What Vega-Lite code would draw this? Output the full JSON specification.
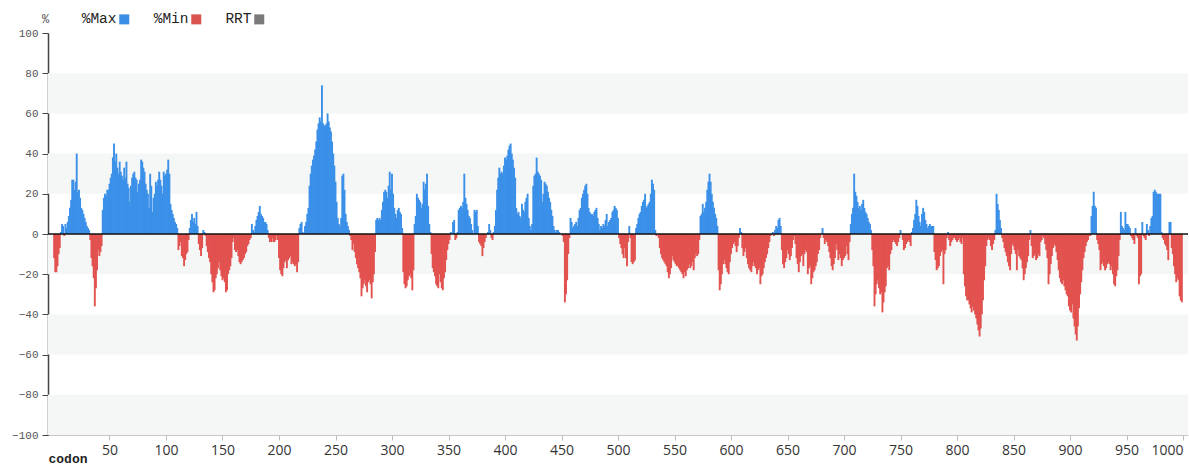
{
  "$schema": "https://vega.github.io/schema/vega-lite/v6.json",
  "width": 1140,
  "height": 402,
  "autosize": "none",
  "padding": {"left": 48, "top": 33, "right": 1, "bottom": 31},
  "background": "white",
  "config": {"view": {"stroke": null}},
  "datasets": {
    "bands": [{"lo": 60, "hi": 80}, {"lo": 20, "hi": 40}, {"lo": -20, "hi": 0}, {"lo": -60, "hi": -40}, {"lo": -100, "hi": -80}],
    "series": [{"k": "%Max"}, {"k": "%Min"}, {"k": "RRT"}],
    "minmax": [
{"c":1,"v":-12},{"c":2,"v":-19},{"c":3,"v":-19},{"c":4,"v":-16},{"c":5,"v":-10},{"c":6,"v":-7},{"c":7,"v":1},{"c":8,"v":5},{"c":9,"v":4},{"c":10,"v":-1},
{"c":11,"v":5},{"c":12,"v":3},{"c":13,"v":6},{"c":14,"v":9},{"c":15,"v":13},{"c":16,"v":17},{"c":17,"v":27},{"c":18,"v":27},{"c":19,"v":22},{"c":20,"v":26},
{"c":21,"v":40},{"c":22,"v":21},{"c":23,"v":22},{"c":24,"v":18},{"c":25,"v":13},{"c":26,"v":12},{"c":27,"v":10},{"c":28,"v":8},{"c":29,"v":6},{"c":30,"v":4},
{"c":31,"v":3},{"c":32,"v":2},{"c":33,"v":-3},{"c":34,"v":-12},{"c":35,"v":-16},{"c":36,"v":-22},{"c":37,"v":-36},{"c":38,"v":-27},{"c":39,"v":-18},{"c":40,"v":-8},
{"c":41,"v":-11},{"c":42,"v":-9},{"c":43,"v":-6},{"c":44,"v":12},{"c":45,"v":18},{"c":46,"v":20},{"c":47,"v":19},{"c":48,"v":22},{"c":49,"v":22},{"c":50,"v":25},
{"c":51,"v":28},{"c":52,"v":30},{"c":53,"v":38},{"c":54,"v":45},{"c":55,"v":36},{"c":56,"v":40},{"c":57,"v":33},{"c":58,"v":30},{"c":59,"v":36},{"c":60,"v":31},
{"c":61,"v":29},{"c":62,"v":27},{"c":63,"v":33},{"c":64,"v":28},{"c":65,"v":36},{"c":66,"v":25},{"c":67,"v":23},{"c":68,"v":16},{"c":69,"v":24},{"c":70,"v":28},
{"c":71,"v":30},{"c":72,"v":31},{"c":73,"v":28},{"c":74,"v":27},{"c":75,"v":21},{"c":76,"v":25},{"c":77,"v":27},{"c":78,"v":37},{"c":79,"v":36},{"c":80,"v":33},
{"c":81,"v":31},{"c":82,"v":25},{"c":83,"v":22},{"c":84,"v":20},{"c":85,"v":13},{"c":86,"v":30},{"c":87,"v":24},{"c":88,"v":11},{"c":89,"v":18},{"c":90,"v":20},
{"c":91,"v":26},{"c":92,"v":24},{"c":93,"v":27},{"c":94,"v":31},{"c":95,"v":27},{"c":96,"v":24},{"c":97,"v":20},{"c":98,"v":31},{"c":99,"v":29},{"c":100,"v":30},
{"c":101,"v":32},{"c":102,"v":37},{"c":103,"v":30},{"c":104,"v":15},{"c":105,"v":12},{"c":106,"v":10},{"c":107,"v":8},{"c":108,"v":6},{"c":109,"v":5},{"c":110,"v":3},
{"c":111,"v":-8},{"c":112,"v":-6},{"c":113,"v":-4},{"c":114,"v":-11},{"c":115,"v":-12},{"c":116,"v":-16},{"c":117,"v":-13},{"c":118,"v":-10},{"c":119,"v":-9},{"c":120,"v":-3},
{"c":121,"v":3},{"c":122,"v":7},{"c":123,"v":10},{"c":124,"v":6},{"c":125,"v":8},{"c":126,"v":5},{"c":127,"v":11},{"c":128,"v":4},{"c":129,"v":-5},{"c":130,"v":-8},
{"c":131,"v":-11},{"c":132,"v":-7},{"c":133,"v":2},{"c":134,"v":1},{"c":135,"v":-1},{"c":136,"v":-6},{"c":137,"v":-9},{"c":138,"v":-12},{"c":139,"v":-14},{"c":140,"v":-20},
{"c":141,"v":-24},{"c":142,"v":-29},{"c":143,"v":-28},{"c":144,"v":-22},{"c":145,"v":-20},{"c":146,"v":-17},{"c":147,"v":-14},{"c":148,"v":-18},{"c":149,"v":-21},{"c":150,"v":-23},
{"c":151,"v":-22},{"c":152,"v":-24},{"c":153,"v":-29},{"c":154,"v":-28},{"c":155,"v":-20},{"c":156,"v":-18},{"c":157,"v":-16},{"c":158,"v":-12},{"c":159,"v":-4},{"c":160,"v":-2},
{"c":161,"v":-8},{"c":162,"v":-9},{"c":163,"v":-8},{"c":164,"v":-11},{"c":165,"v":-14},{"c":166,"v":-15},{"c":167,"v":-14},{"c":168,"v":-13},{"c":169,"v":-12},{"c":170,"v":-10},
{"c":171,"v":-9},{"c":172,"v":-6},{"c":173,"v":-5},{"c":174,"v":-3},{"c":175,"v":-2},{"c":176,"v":5},{"c":177,"v":2},{"c":178,"v":1},{"c":179,"v":4},{"c":180,"v":7},
{"c":181,"v":9},{"c":182,"v":11},{"c":183,"v":14},{"c":184,"v":10},{"c":185,"v":9},{"c":186,"v":8},{"c":187,"v":6},{"c":188,"v":6},{"c":189,"v":5},{"c":190,"v":2},
{"c":191,"v":-2},{"c":192,"v":-4},{"c":193,"v":-4},{"c":194,"v":-2},{"c":195,"v":-4},{"c":196,"v":-4},{"c":197,"v":-3},{"c":198,"v":-1},{"c":199,"v":-3},{"c":200,"v":-12},
{"c":201,"v":-18},{"c":202,"v":-20},{"c":203,"v":-21},{"c":204,"v":-17},{"c":205,"v":-14},{"c":206,"v":-13},{"c":207,"v":-17},{"c":208,"v":-13},{"c":209,"v":-12},{"c":210,"v":-11},
{"c":211,"v":-15},{"c":212,"v":-14},{"c":213,"v":-15},{"c":214,"v":-16},{"c":215,"v":-15},{"c":216,"v":-19},{"c":217,"v":-14},{"c":218,"v":3},{"c":219,"v":5},{"c":220,"v":6},
{"c":221,"v":1},{"c":222,"v":0},{"c":223,"v":4},{"c":224,"v":6},{"c":225,"v":10},{"c":226,"v":13},{"c":227,"v":24},{"c":228,"v":30},{"c":229,"v":34},{"c":230,"v":37},
{"c":231,"v":39},{"c":232,"v":42},{"c":233,"v":46},{"c":234,"v":52},{"c":235,"v":55},{"c":236,"v":58},{"c":237,"v":56},{"c":238,"v":74},{"c":239,"v":55},{"c":240,"v":54},
{"c":241,"v":54},{"c":242,"v":55},{"c":243,"v":60},{"c":244,"v":56},{"c":245,"v":53},{"c":246,"v":51},{"c":247,"v":46},{"c":248,"v":40},{"c":249,"v":34},{"c":250,"v":26},
{"c":251,"v":16},{"c":252,"v":8},{"c":253,"v":5},{"c":254,"v":4},{"c":255,"v":8},{"c":256,"v":29},{"c":257,"v":30},{"c":258,"v":22},{"c":259,"v":10},{"c":260,"v":6},
{"c":261,"v":4},{"c":262,"v":2},{"c":263,"v":-1},{"c":264,"v":-3},{"c":265,"v":-8},{"c":266,"v":-5},{"c":267,"v":-9},{"c":268,"v":-12},{"c":269,"v":-15},{"c":270,"v":-17},
{"c":271,"v":-19},{"c":272,"v":-22},{"c":273,"v":-31},{"c":274,"v":-27},{"c":275,"v":-25},{"c":276,"v":-23},{"c":277,"v":-26},{"c":278,"v":-29},{"c":279,"v":-24},{"c":280,"v":-23},
{"c":281,"v":-25},{"c":282,"v":-32},{"c":283,"v":-24},{"c":284,"v":-20},{"c":285,"v":-9},{"c":286,"v":7},{"c":287,"v":8},{"c":288,"v":7},{"c":289,"v":8},{"c":290,"v":7},
{"c":291,"v":12},{"c":292,"v":16},{"c":293,"v":21},{"c":294,"v":22},{"c":295,"v":21},{"c":296,"v":18},{"c":297,"v":24},{"c":298,"v":31},{"c":299,"v":22},{"c":300,"v":30},
{"c":301,"v":20},{"c":302,"v":13},{"c":303,"v":10},{"c":304,"v":8},{"c":305,"v":12},{"c":306,"v":13},{"c":307,"v":11},{"c":308,"v":10},{"c":309,"v":3},{"c":310,"v":-19},
{"c":311,"v":-25},{"c":312,"v":-27},{"c":313,"v":-26},{"c":314,"v":-23},{"c":315,"v":-21},{"c":316,"v":-20},{"c":317,"v":-22},{"c":318,"v":-28},{"c":319,"v":-18},{"c":320,"v":5},
{"c":321,"v":9},{"c":322,"v":20},{"c":323,"v":18},{"c":324,"v":17},{"c":325,"v":16},{"c":326,"v":13},{"c":327,"v":15},{"c":328,"v":26},{"c":329,"v":22},{"c":330,"v":25},
{"c":331,"v":30},{"c":332,"v":14},{"c":333,"v":5},{"c":334,"v":1},{"c":335,"v":-10},{"c":336,"v":-17},{"c":337,"v":-19},{"c":338,"v":-21},{"c":339,"v":-25},{"c":340,"v":-26},
{"c":341,"v":-27},{"c":342,"v":-20},{"c":343,"v":-24},{"c":344,"v":-27},{"c":345,"v":-28},{"c":346,"v":-22},{"c":347,"v":-19},{"c":348,"v":-13},{"c":349,"v":-8},{"c":350,"v":-5},
{"c":351,"v":-3},{"c":352,"v":1},{"c":353,"v":0},{"c":354,"v":6},{"c":355,"v":7},{"c":356,"v":-3},{"c":357,"v":-2},{"c":358,"v":1},{"c":359,"v":12},{"c":360,"v":13},
{"c":361,"v":14},{"c":362,"v":13},{"c":363,"v":16},{"c":364,"v":30},{"c":365,"v":18},{"c":366,"v":15},{"c":367,"v":12},{"c":368,"v":9},{"c":369,"v":8},{"c":370,"v":5},
{"c":371,"v":2},{"c":372,"v":0},{"c":373,"v":12},{"c":374,"v":11},{"c":375,"v":12},{"c":376,"v":4},{"c":377,"v":-4},{"c":378,"v":-5},{"c":379,"v":-6},{"c":380,"v":-11},
{"c":381,"v":-7},{"c":382,"v":-4},{"c":383,"v":-2},{"c":384,"v":0},{"c":385,"v":1},{"c":386,"v":5},{"c":387,"v":2},{"c":388,"v":-2},{"c":389,"v":-3},{"c":390,"v":1},
{"c":391,"v":4},{"c":392,"v":12},{"c":393,"v":22},{"c":394,"v":28},{"c":395,"v":33},{"c":396,"v":30},{"c":397,"v":31},{"c":398,"v":30},{"c":399,"v":34},{"c":400,"v":38},
{"c":401,"v":37},{"c":402,"v":39},{"c":403,"v":42},{"c":404,"v":44},{"c":405,"v":45},{"c":406,"v":40},{"c":407,"v":37},{"c":408,"v":33},{"c":409,"v":28},{"c":410,"v":13},
{"c":411,"v":10},{"c":412,"v":11},{"c":413,"v":9},{"c":414,"v":8},{"c":415,"v":15},{"c":416,"v":12},{"c":417,"v":11},{"c":418,"v":16},{"c":419,"v":18},{"c":420,"v":20},
{"c":421,"v":8},{"c":422,"v":4},{"c":423,"v":2},{"c":424,"v":5},{"c":425,"v":24},{"c":426,"v":29},{"c":427,"v":30},{"c":428,"v":38},{"c":429,"v":31},{"c":430,"v":30},
{"c":431,"v":29},{"c":432,"v":27},{"c":433,"v":16},{"c":434,"v":20},{"c":435,"v":26},{"c":436,"v":25},{"c":437,"v":24},{"c":438,"v":21},{"c":439,"v":18},{"c":440,"v":16},
{"c":441,"v":12},{"c":442,"v":9},{"c":443,"v":4},{"c":444,"v":2},{"c":445,"v":1},{"c":446,"v":2},{"c":447,"v":2},{"c":448,"v":1},{"c":449,"v":0},{"c":450,"v":0},
{"c":451,"v":-1},{"c":452,"v":-4},{"c":453,"v":-34},{"c":454,"v":-30},{"c":455,"v":-23},{"c":456,"v":-10},{"c":457,"v":-2},{"c":458,"v":8},{"c":459,"v":6},{"c":460,"v":3},
{"c":461,"v":4},{"c":462,"v":5},{"c":463,"v":6},{"c":464,"v":4},{"c":465,"v":8},{"c":466,"v":12},{"c":467,"v":13},{"c":468,"v":18},{"c":469,"v":20},{"c":470,"v":22},
{"c":471,"v":24},{"c":472,"v":25},{"c":473,"v":20},{"c":474,"v":13},{"c":475,"v":11},{"c":476,"v":10},{"c":477,"v":10},{"c":478,"v":9},{"c":479,"v":11},{"c":480,"v":12},
{"c":481,"v":13},{"c":482,"v":8},{"c":483,"v":5},{"c":484,"v":2},{"c":485,"v":4},{"c":486,"v":3},{"c":487,"v":5},{"c":488,"v":4},{"c":489,"v":7},{"c":490,"v":10},
{"c":491,"v":4},{"c":492,"v":6},{"c":493,"v":7},{"c":494,"v":8},{"c":495,"v":11},{"c":496,"v":12},{"c":497,"v":14},{"c":498,"v":13},{"c":499,"v":12},{"c":500,"v":8},
{"c":501,"v":-2},{"c":502,"v":-5},{"c":503,"v":-7},{"c":504,"v":-10},{"c":505,"v":-12},{"c":506,"v":-7},{"c":507,"v":-12},{"c":508,"v":-16},{"c":509,"v":-4},{"c":510,"v":4},
{"c":511,"v":-2},{"c":512,"v":-14},{"c":513,"v":-15},{"c":514,"v":-14},{"c":515,"v":-13},{"c":516,"v":3},{"c":517,"v":5},{"c":518,"v":8},{"c":519,"v":10},{"c":520,"v":11},
{"c":521,"v":14},{"c":522,"v":16},{"c":523,"v":17},{"c":524,"v":20},{"c":525,"v":13},{"c":526,"v":14},{"c":527,"v":15},{"c":528,"v":16},{"c":529,"v":20},{"c":530,"v":27},
{"c":531,"v":25},{"c":532,"v":22},{"c":533,"v":2},{"c":534,"v":-1},{"c":535,"v":0},{"c":536,"v":-2},{"c":537,"v":-7},{"c":538,"v":-10},{"c":539,"v":-12},{"c":540,"v":-13},
{"c":541,"v":-14},{"c":542,"v":-15},{"c":543,"v":-16},{"c":544,"v":-19},{"c":545,"v":-22},{"c":546,"v":-20},{"c":547,"v":-17},{"c":548,"v":-11},{"c":549,"v":-13},{"c":550,"v":-14},
{"c":551,"v":-15},{"c":552,"v":-16},{"c":553,"v":-16},{"c":554,"v":-17},{"c":555,"v":-18},{"c":556,"v":-19},{"c":557,"v":-20},{"c":558,"v":-22},{"c":559,"v":-19},{"c":560,"v":-21},
{"c":561,"v":-18},{"c":562,"v":-17},{"c":563,"v":-15},{"c":564,"v":-17},{"c":565,"v":-16},{"c":566,"v":-14},{"c":567,"v":-18},{"c":568,"v":-12},{"c":569,"v":-10},{"c":570,"v":-11},
{"c":571,"v":-10},{"c":572,"v":-3},{"c":573,"v":9},{"c":574,"v":10},{"c":575,"v":15},{"c":576,"v":11},{"c":577,"v":13},{"c":578,"v":16},{"c":579,"v":22},{"c":580,"v":26},
{"c":581,"v":30},{"c":582,"v":26},{"c":583,"v":20},{"c":584,"v":16},{"c":585,"v":13},{"c":586,"v":10},{"c":587,"v":8},{"c":588,"v":4},{"c":589,"v":-18},{"c":590,"v":-28},
{"c":591,"v":-25},{"c":592,"v":-20},{"c":593,"v":-15},{"c":594,"v":-13},{"c":595,"v":-15},{"c":596,"v":-17},{"c":597,"v":-19},{"c":598,"v":-20},{"c":599,"v":-14},{"c":600,"v":-10},
{"c":601,"v":-7},{"c":602,"v":-5},{"c":603,"v":-4},{"c":604,"v":-6},{"c":605,"v":-9},{"c":606,"v":-6},{"c":607,"v":-2},{"c":608,"v":3},{"c":609,"v":1},{"c":610,"v":-7},
{"c":611,"v":-11},{"c":612,"v":-9},{"c":613,"v":-7},{"c":614,"v":-12},{"c":615,"v":-15},{"c":616,"v":-17},{"c":617,"v":-18},{"c":618,"v":-19},{"c":619,"v":-16},{"c":620,"v":-14},
{"c":621,"v":-16},{"c":622,"v":-17},{"c":623,"v":-20},{"c":624,"v":-18},{"c":625,"v":-17},{"c":626,"v":-25},{"c":627,"v":-21},{"c":628,"v":-20},{"c":629,"v":-17},{"c":630,"v":-14},
{"c":631,"v":-12},{"c":632,"v":-10},{"c":633,"v":-7},{"c":634,"v":-4},{"c":635,"v":-1},{"c":636,"v":0},{"c":637,"v":1},{"c":638,"v":-1},{"c":639,"v":2},{"c":640,"v":4},
{"c":641,"v":3},{"c":642,"v":7},{"c":643,"v":8},{"c":644,"v":4},{"c":645,"v":-8},{"c":646,"v":-15},{"c":647,"v":-17},{"c":648,"v":-14},{"c":649,"v":-12},{"c":650,"v":-8},
{"c":651,"v":-10},{"c":652,"v":-13},{"c":653,"v":-11},{"c":654,"v":-7},{"c":655,"v":-3},{"c":656,"v":-1},{"c":657,"v":-5},{"c":658,"v":-12},{"c":659,"v":-15},{"c":660,"v":-19},
{"c":661,"v":-14},{"c":662,"v":-11},{"c":663,"v":-10},{"c":664,"v":-16},{"c":665,"v":-10},{"c":666,"v":-8},{"c":667,"v":-9},{"c":668,"v":-20},{"c":669,"v":-17},{"c":670,"v":-16},
{"c":671,"v":-25},{"c":672,"v":-22},{"c":673,"v":-19},{"c":674,"v":-18},{"c":675,"v":-16},{"c":676,"v":-14},{"c":677,"v":-10},{"c":678,"v":-8},{"c":679,"v":-2},{"c":680,"v":0},
{"c":681,"v":3},{"c":682,"v":-2},{"c":683,"v":-5},{"c":684,"v":-3},{"c":685,"v":-4},{"c":686,"v":-6},{"c":687,"v":-9},{"c":688,"v":-12},{"c":689,"v":-16},{"c":690,"v":-18},
{"c":691,"v":-15},{"c":692,"v":-12},{"c":693,"v":-5},{"c":694,"v":-8},{"c":695,"v":-13},{"c":696,"v":-10},{"c":697,"v":-12},{"c":698,"v":-16},{"c":699,"v":-13},{"c":700,"v":-12},
{"c":701,"v":-11},{"c":702,"v":-6},{"c":703,"v":-10},{"c":704,"v":-13},{"c":705,"v":-4},{"c":706,"v":5},{"c":707,"v":10},{"c":708,"v":13},{"c":709,"v":30},{"c":710,"v":21},
{"c":711,"v":19},{"c":712,"v":16},{"c":713,"v":13},{"c":714,"v":14},{"c":715,"v":12},{"c":716,"v":15},{"c":717,"v":17},{"c":718,"v":13},{"c":719,"v":11},{"c":720,"v":10},
{"c":721,"v":8},{"c":722,"v":6},{"c":723,"v":5},{"c":724,"v":2},{"c":725,"v":-8},{"c":726,"v":-16},{"c":727,"v":-36},{"c":728,"v":-30},{"c":729,"v":-25},{"c":730,"v":-23},
{"c":731,"v":-27},{"c":732,"v":-30},{"c":733,"v":-29},{"c":734,"v":-39},{"c":735,"v":-34},{"c":736,"v":-29},{"c":737,"v":-26},{"c":738,"v":-17},{"c":739,"v":-16},{"c":740,"v":-18},
{"c":741,"v":-10},{"c":742,"v":-8},{"c":743,"v":-4},{"c":744,"v":-3},{"c":745,"v":-4},{"c":746,"v":-5},{"c":747,"v":-6},{"c":748,"v":-4},{"c":749,"v":-2},{"c":750,"v":2},
{"c":751,"v":0},{"c":752,"v":-3},{"c":753,"v":-8},{"c":754,"v":-7},{"c":755,"v":-5},{"c":756,"v":-4},{"c":757,"v":-3},{"c":758,"v":-4},{"c":759,"v":-6},{"c":760,"v":1},
{"c":761,"v":3},{"c":762,"v":7},{"c":763,"v":10},{"c":764,"v":17},{"c":765,"v":14},{"c":766,"v":9},{"c":767,"v":6},{"c":768,"v":4},{"c":769,"v":10},{"c":770,"v":13},
{"c":771,"v":11},{"c":772,"v":7},{"c":773,"v":5},{"c":774,"v":3},{"c":775,"v":4},{"c":776,"v":5},{"c":777,"v":4},{"c":778,"v":4},{"c":779,"v":4},{"c":780,"v":-9},
{"c":781,"v":-13},{"c":782,"v":-18},{"c":783,"v":-17},{"c":784,"v":-16},{"c":785,"v":-11},{"c":786,"v":-9},{"c":787,"v":-8},{"c":788,"v":-25},{"c":789,"v":-10},{"c":790,"v":-8},
{"c":791,"v":-2},{"c":792,"v":1},{"c":793,"v":-3},{"c":794,"v":-6},{"c":795,"v":-4},{"c":796,"v":-3},{"c":797,"v":-2},{"c":798,"v":-2},{"c":799,"v":-3},{"c":800,"v":-4},
{"c":801,"v":-3},{"c":802,"v":-2},{"c":803,"v":-4},{"c":804,"v":-5},{"c":805,"v":-2},{"c":806,"v":-20},{"c":807,"v":-26},{"c":808,"v":-31},{"c":809,"v":-33},{"c":810,"v":-33},
{"c":811,"v":-35},{"c":812,"v":-37},{"c":813,"v":-39},{"c":814,"v":-36},{"c":815,"v":-38},{"c":816,"v":-40},{"c":817,"v":-42},{"c":818,"v":-45},{"c":819,"v":-48},{"c":820,"v":-51},
{"c":821,"v":-47},{"c":822,"v":-40},{"c":823,"v":-33},{"c":824,"v":-23},{"c":825,"v":-16},{"c":826,"v":-6},{"c":827,"v":-3},{"c":828,"v":-2},{"c":829,"v":-3},{"c":830,"v":-6},
{"c":831,"v":-8},{"c":832,"v":-5},{"c":833,"v":-3},{"c":834,"v":2},{"c":835,"v":20},{"c":836,"v":15},{"c":837,"v":12},{"c":838,"v":7},{"c":839,"v":3},{"c":840,"v":-2},
{"c":841,"v":-4},{"c":842,"v":-7},{"c":843,"v":-9},{"c":844,"v":-11},{"c":845,"v":-14},{"c":846,"v":-16},{"c":847,"v":-18},{"c":848,"v":-10},{"c":849,"v":-5},{"c":850,"v":-6},
{"c":851,"v":-8},{"c":852,"v":-10},{"c":853,"v":-18},{"c":854,"v":-8},{"c":855,"v":-11},{"c":856,"v":-12},{"c":857,"v":-13},{"c":858,"v":-17},{"c":859,"v":-23},{"c":860,"v":-20},
{"c":861,"v":-17},{"c":862,"v":-14},{"c":863,"v":-11},{"c":864,"v":-3},{"c":865,"v":2},{"c":866,"v":-6},{"c":867,"v":-12},{"c":868,"v":-11},{"c":869,"v":-10},{"c":870,"v":-13},
{"c":871,"v":-12},{"c":872,"v":-10},{"c":873,"v":-11},{"c":874,"v":-4},{"c":875,"v":-3},{"c":876,"v":-1},{"c":877,"v":-2},{"c":878,"v":-5},{"c":879,"v":-8},{"c":880,"v":-12},
{"c":881,"v":-25},{"c":882,"v":-20},{"c":883,"v":-15},{"c":884,"v":-11},{"c":885,"v":-7},{"c":886,"v":-5},{"c":887,"v":-6},{"c":888,"v":-9},{"c":889,"v":-13},{"c":890,"v":-18},
{"c":891,"v":-22},{"c":892,"v":-24},{"c":893,"v":-25},{"c":894,"v":-23},{"c":895,"v":-26},{"c":896,"v":-28},{"c":897,"v":-30},{"c":898,"v":-31},{"c":899,"v":-36},{"c":900,"v":-38},
{"c":901,"v":-39},{"c":902,"v":-35},{"c":903,"v":-42},{"c":904,"v":-46},{"c":905,"v":-50},{"c":906,"v":-53},{"c":907,"v":-46},{"c":908,"v":-37},{"c":909,"v":-30},{"c":910,"v":-24},
{"c":911,"v":-18},{"c":912,"v":-12},{"c":913,"v":-9},{"c":914,"v":-6},{"c":915,"v":-4},{"c":916,"v":-3},{"c":917,"v":-1},{"c":918,"v":-1},{"c":919,"v":9},{"c":920,"v":14},
{"c":921,"v":21},{"c":922,"v":14},{"c":923,"v":13},{"c":924,"v":-3},{"c":925,"v":-5},{"c":926,"v":-8},{"c":927,"v":-18},{"c":928,"v":-15},{"c":929,"v":-14},{"c":930,"v":-16},
{"c":931,"v":-18},{"c":932,"v":-17},{"c":933,"v":-15},{"c":934,"v":-14},{"c":935,"v":-15},{"c":936,"v":-18},{"c":937,"v":-16},{"c":938,"v":-20},{"c":939,"v":-25},{"c":940,"v":-26},
{"c":941,"v":-21},{"c":942,"v":-18},{"c":943,"v":-11},{"c":944,"v":-3},{"c":945,"v":11},{"c":946,"v":4},{"c":947,"v":3},{"c":948,"v":2},{"c":949,"v":11},{"c":950,"v":5},
{"c":951,"v":5},{"c":952,"v":4},{"c":953,"v":3},{"c":954,"v":-1},{"c":955,"v":-2},{"c":956,"v":-3},{"c":957,"v":-5},{"c":958,"v":3},{"c":959,"v":-1},{"c":960,"v":-2},
{"c":961,"v":-25},{"c":962,"v":-21},{"c":963,"v":-20},{"c":964,"v":6},{"c":965,"v":-1},{"c":966,"v":-2},{"c":967,"v":-3},{"c":968,"v":5},{"c":969,"v":2},{"c":970,"v":-1},
{"c":971,"v":4},{"c":972,"v":8},{"c":973,"v":9},{"c":974,"v":21},{"c":975,"v":22},{"c":976,"v":21},{"c":977,"v":20},{"c":978,"v":20},{"c":979,"v":20},{"c":980,"v":20},
{"c":981,"v":1},{"c":982,"v":-2},{"c":983,"v":-3},{"c":984,"v":-5},{"c":985,"v":-6},{"c":986,"v":-8},{"c":987,"v":-13},{"c":988,"v":6},{"c":989,"v":6},{"c":990,"v":-7},
{"c":991,"v":-10},{"c":992,"v":-16},{"c":993,"v":-20},{"c":994,"v":-24},{"c":995,"v":-22},{"c":996,"v":-23},{"c":997,"v":-31},{"c":998,"v":-33},{"c":999,"v":-34}
    ]
  },
  "layer": [
    {
      "data": {"name": "bands"},
      "mark": {"type": "rect", "color": "#f5f6f6"},
      "encoding": {
        "y": {"field": "lo", "type": "quantitative", "title": "%", "scale": {"domain": [-100, 100], "nice": false}},
        "y2": {"field": "hi"}
      }
    },
    {
      "data": {"name": "minmax"},
      "mark": {"type": "bar", "width": 1.9, "orient": "vertical"},
      "encoding": {
        "x": {
          "field": "c", "type": "quantitative",
          "scale": {"domain": [0, 1000], "nice": false, "zero": true},
          "axis": {
            "values": [50, 100, 150, 200, 250, 300, 350, 400, 450, 500, 550, 600, 650, 700, 750, 800, 850, 900, 950, 1000],
            "format": "d", "grid": false,
            "title": "codon", "titleFont": "Liberation Mono", "titleFontSize": 13, "titleFontWeight": "bold", "titleColor": "#222",
            "titleX": 0, "titleY": 23, "titleAlign": "left", "titleBaseline": "middle", "titleAnchor": null,
            "labelFont": "Open Sans", "labelFontSize": 14, "labelColor": "#333", "labelPadding": 3, "labelFlush": false,
            "labelAlign": {"expr": "datum.value >= 1000 ? 'right' : 'center'"},
            "tickColor": "#bbb", "tickSize": 5, "domainColor": "#c8c8c8"
          }
        },
        "y": {
          "field": "v", "type": "quantitative",
          "scale": {"domain": [-100, 100], "nice": false},
          "axis": {
            "values": [-100, -80, -60, -40, -20, 0, 20, 40, 60, 80, 100],
            "grid": false,
            "title": "%", "titleAngle": 0, "titleX": -3, "titleY": -15, "titleAlign": "center", "titleBaseline": "middle",
            "titleFont": "Liberation Mono", "titleFontSize": 12, "titleFontWeight": "normal", "titleColor": "#555",
            "labelFont": "Liberation Mono", "labelFontSize": 11, "labelColor": "#555", "labelPadding": 4,
            "tickColor": "#444", "tickSize": 6, "domainColor": "#444", "domainWidth": 1.5
          }
        },
        "color": {"condition": {"test": "datum.v < 0", "value": "#e2524f"}, "value": "#3b90e8"}
      }
    },
    {
      "data": {"values": [{}]},
      "mark": {"type": "rule", "color": "#111", "strokeWidth": 1.5},
      "encoding": {"y": {"datum": 0}}
    },
    {
      "data": {"name": "series"},
      "mark": {"type": "square", "opacity": 0},
      "encoding": {
        "color": {
          "field": "k", "type": "nominal",
          "scale": {"domain": ["%Max", "%Min", "RRT"], "range": ["#3a8fe5", "#d9534f", "#7a7a7a"]},
          "legend": {
            "orient": "none", "direction": "horizontal", "legendX": 69, "legendY": -21, "padding": 0,
            "title": null, "symbolType": "square", "symbolSize": 100, "symbolOpacity": 1, "symbolStrokeWidth": 0,
            "labelFont": "Liberation Mono", "labelFontSize": 14.5, "labelColor": "#222",
            "labelAlign": "right", "labelOffset": -15, "columnPadding": 23
          }
        }
      }
    }
  ]
}
